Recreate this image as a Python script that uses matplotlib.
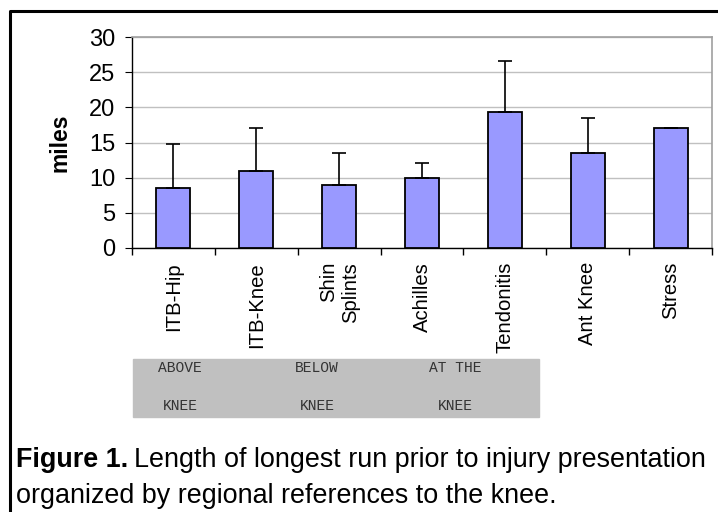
import matplotlib.pyplot as plt
import numpy as np
from matplotlib.patches import Rectangle
from matplotlib.lines import Line2D

# longest run (miles) by injury, with upper std error bar
injuries = ['ITB-Hip', 'ITB-Knee', 'Shin\nSplints', 'Achilles', 'Tendonitis', 'Ant Knee', 'Stress']
miles = [8.5, 11.0, 8.9, 10.0, 19.3, 13.5, 17.1]
err_up = [6.3, 6.1, 4.6, 2.1, 7.3, 5.0, 0.0]

regions_top = ['ABOVE', 'BELOW', 'AT THE']
regions_bot = ['KNEE', 'KNEE', 'KNEE']

plt.rcParams['font.family'] = ['Liberation Sans', 'DejaVu Sans']

W, H = 718, 512
fig = plt.figure(figsize=(W / 100, H / 100), dpi=100)
ax = fig.add_axes([132 / W, 1 - 248 / H, 580 / W, 211 / H])

x = np.arange(len(injuries))
ax.bar(x, miles, width=0.41, color='#9999ff', edgecolor='black', linewidth=1.3, zorder=3)
ax.errorbar(x, miles, yerr=[np.zeros(len(miles)), err_up], fmt='none',
            ecolor='black', elinewidth=1.2, capsize=5, capthick=1.2, zorder=4)

ax.set_ylim(0, 30)
ax.set_xlim(-0.5, len(injuries) - 0.5)
ax.set_yticks(range(0, 31, 5))
ax.tick_params(axis='y', labelsize=17, length=5, direction='out', pad=7)
ax.yaxis.grid(True, color='#c0c0c0', linewidth=1, zorder=0)

ax.set_xticks(x)
ax.set_xticklabels(injuries, rotation=90, fontsize=14.6, multialignment='right')
ax.set_xticks(np.arange(-0.5, len(injuries), 1), minor=True)
ax.tick_params(axis='x', which='major', length=0, pad=10)
ax.tick_params(axis='x', which='minor', length=5, direction='out', width=1)

ax.spines['top'].set_color('#a0a0a0')
ax.spines['right'].set_color('#a0a0a0')
ax.spines['top'].set_linewidth(1.2)
ax.spines['right'].set_linewidth(1.2)
ax.spines['left'].set_linewidth(1)
ax.spines['bottom'].set_linewidth(1)

ax.set_ylabel('miles', fontsize=16.5, fontweight='bold', labelpad=13)

# gray region box below the tick labels
fig.patches.append(Rectangle((133 / W, 1 - 417 / H), 406 / W, 58 / H,
                             transform=fig.transFigure, color='#c0c0c0', zorder=0))
for cx, t, b in zip([180, 317, 455], regions_top, regions_bot):
    fig.text(cx / W, 1 - 368 / H, t, family='Liberation Mono', fontsize=10.5,
             color='#333333', ha='center', va='center')
    fig.text(cx / W, 1 - 406 / H, b, family='Liberation Mono', fontsize=10.5,
             color='#333333', ha='center', va='center')

# outer frame (top and left)
fig.lines.append(Line2D([10 / W, 10 / W, 1], [0, 1 - 11 / H, 1 - 11 / H],
                        transform=fig.transFigure, color='black', linewidth=2.2))

# caption
cap1 = fig.text(16 / W, 1 - 460 / H, 'Figure 1.', fontsize=19.4,
                fontweight='bold', ha='left', va='center')
fig.canvas.draw()
bb = cap1.get_window_extent()
fig.text((bb.x1 + 6) / W, 1 - 460 / H,
         'Length of longest run prior to injury presentation',
         fontsize=19.4, ha='left', va='center')
fig.text(16 / W, 1 - 496 / H, 'organized by regional references to the knee.',
         fontsize=19.4, ha='left', va='center')

fig.savefig('out.png', dpi=100)
